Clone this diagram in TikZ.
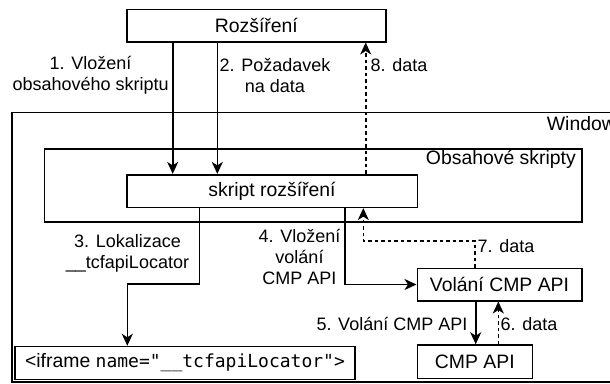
\documentclass[tikz,border=0pt]{standalone}
\usepackage{fontspec}
\setmainfont{Liberation Sans}
\setmonofont{DejaVu Sans Mono}
\usetikzlibrary{arrows.meta}
\begin{document}
\begin{tikzpicture}[x=1pt,y=-1pt,
 box/.style={draw, line width=1.6pt, inner sep=0pt, font=\fontsize{19.4}{22}\selectfont},
 title/.style={inner sep=0pt, font=\fontsize{19.4}{22}\selectfont},
 lbl/.style={inner sep=0pt, align=center, font=\fontsize{18}{21}\selectfont},
 arr/.style={line width=1.6pt, -{Stealth[length=12pt,width=11pt,inset=3.5pt]}},
 darr/.style={arr, dash pattern=on 3.5pt off 3pt}]
\useasboundingbox (0,0) rectangle (610,383);
\begin{scope}
\clip (0,0) rectangle (610,383);
\node[box, minimum width=613.3pt, minimum height=269.4pt] (win) at (318.35,247) {};
\node[title, anchor=west] (wint) at (546.7,124) {Window};
\end{scope}
\node[box, minimum width=537.4pt, minimum height=72.7pt] (obs) at (313,185.35) {};
\node[title, anchor=east] (obst) at (576,159) {Obsahové skripty};
\node[box, minimum width=259.3pt, minimum height=32.4pt] (roz) at (256.35,25.5) {Rozšíření};
\node[box, minimum width=290.6pt, minimum height=32.6pt] (skr) at (272,191) {skript rozšíření};
\node[box, minimum width=164.4pt, minimum height=32.4pt] (vol) at (499.5,284.5) {Volání CMP API};
\node[box, minimum width=115pt, minimum height=33.3pt] (cmp) at (474.8,361.7) {CMP API};
\node[box, minimum width=340pt, minimum height=32.8pt] (ifr) at (185,363) {<iframe {\ttfamily\fontsize{18}{21}\selectfont name="\_\_tcfapiLocator">}};
% labels
\node[lbl] (l1) at (90.6,75.5) {1. Vložení\\obsahového skriptu};
\node[lbl] (l2) at (275,75.5) {2. Požadavek\\na data};
\node[lbl, anchor=west] (l8) at (370.5,65) {8. data};
\node[lbl] (l3) at (127.5,253.7) {3. Lokalizace\\\_\_tcfapiLocator};
\node[lbl] (l4) at (299.5,256.7) {4. Vložení\\volání\\CMP API};
\node[lbl, anchor=west] (l7) at (477.5,246) {7. data};
\node[lbl, anchor=east] (l5) at (467.5,324.3) {5. Volání CMP API};
\node[lbl, anchor=west] (l6) at (500.5,324.3) {6. data};
% connectors
\draw[arr] (172.7,0 |- roz.south) -- (172.7,0 |- skr.north);
\draw[arr] (217.3,0 |- roz.south) -- (217.3,0 |- skr.north);
\draw[darr] (365.7,0 |- skr.north) -- (365.7,0 |- roz.south);
\draw[arr] (199.3,0 |- skr.south) |- (127.3,284) -- (127.3,0 |- ifr.north);
\draw[arr] (345,0 |- skr.south) |- (vol.west);
\draw[darr] (475,0 |- vol.north) |- (363.3,240.7) -- (363.3,0 |- skr.south);
\draw[arr] (475.7,0 |- vol.south) -- (475.7,0 |- cmp.north);
\draw[darr] (498.3,0 |- cmp.north) -- (498.3,0 |- vol.south);
\end{tikzpicture}
\end{document}
